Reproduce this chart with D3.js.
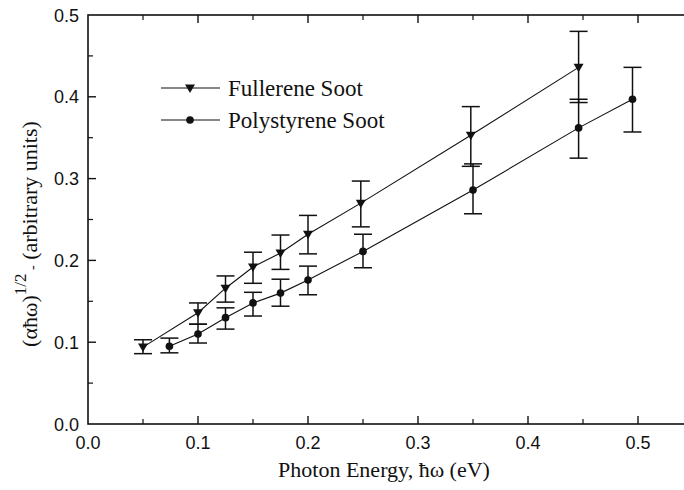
<!DOCTYPE html>
<meta charset="utf-8">
<script src="https://cdnjs.cloudflare.com/ajax/libs/d3/7.8.5/d3.min.js"></script>
<style>
  body { margin: 0; background: #fff; }
  svg { display: block; }
  .tick-label { font-family: "Liberation Sans", Arial, sans-serif; font-size: 18px; fill: #111; }
  .title { font-family: "Liberation Serif", "Times New Roman", serif; font-size: 22px; fill: #111; }
  .legend text { font-family: "Liberation Serif", "Times New Roman", serif; font-size: 23px; fill: #111; }
</style>
<body>
<script>
// values
var fullX   = [0.05, 0.10, 0.125, 0.15, 0.175, 0.20, 0.248, 0.348, 0.446];
var fullY   = [0.094, 0.136, 0.166, 0.192, 0.209, 0.232, 0.270, 0.353, 0.436];
var fullLo  = [0.086, 0.122, 0.149, 0.172, 0.189, 0.208, 0.241, 0.315, 0.393];
var fullHi  = [0.103, 0.148, 0.181, 0.210, 0.231, 0.255, 0.297, 0.388, 0.480];

var polyX   = [0.074, 0.10, 0.125, 0.15, 0.175, 0.20, 0.25, 0.35, 0.446, 0.495];
var polyY   = [0.095, 0.110, 0.130, 0.148, 0.160, 0.176, 0.211, 0.286, 0.362, 0.397];
var polyLo  = [0.087, 0.099, 0.116, 0.132, 0.144, 0.158, 0.191, 0.257, 0.325, 0.357];
var polyHi  = [0.105, 0.122, 0.142, 0.161, 0.177, 0.193, 0.232, 0.318, 0.397, 0.436];

var xTicks = [0.0, 0.1, 0.2, 0.3, 0.4, 0.5];
var yTicks = [0.0, 0.1, 0.2, 0.3, 0.4, 0.5];
var seriesNames = ["Fullerene Soot", "Polystyrene Soot"];

var width = 684, height = 490;
var margin = {top: 15, left: 88, bottom: 66};

var x = d3.scaleLinear().domain([0, 0.55]).range([margin.left, margin.left + 605]);
var y = d3.scaleLinear().domain([0, 0.5]).range([height - margin.bottom, margin.top]);

var svg = d3.select("body").append("svg")
    .attr("width", width)
    .attr("height", height);

var minorX = d3.range(0.05, 0.55, 0.1);
var minorY = d3.range(0.05, 0.5, 0.1);

function axes() {
  var g = svg.append("g").attr("stroke", "#111").attr("fill", "none");
  // frame
  g.append("rect")
      .attr("x", x(0)).attr("y", y(0.5))
      .attr("width", x(0.55) - x(0)).attr("height", y(0) - y(0.5))
      .attr("stroke-width", 1.6);

  // x ticks, bottom and top, pointing inward
  [[y(0), -1], [y(0.5), 1]].forEach(function(s) {
    g.selectAll(null).data(xTicks.slice(1)).enter().append("line")
        .attr("x1", function(d) { return x(d); }).attr("x2", function(d) { return x(d); })
        .attr("y1", s[0]).attr("y2", s[0] + s[1] * 8).attr("stroke-width", 1.4);
    g.selectAll(null).data(minorX).enter().append("line")
        .attr("x1", function(d) { return x(d); }).attr("x2", function(d) { return x(d); })
        .attr("y1", s[0]).attr("y2", s[0] + s[1] * 5).attr("stroke-width", 1.2);
  });

  // y ticks, left and right
  [[x(0), 1], [x(0.55), -1]].forEach(function(s) {
    g.selectAll(null).data(yTicks.slice(1, 5)).enter().append("line")
        .attr("y1", function(d) { return y(d); }).attr("y2", function(d) { return y(d); })
        .attr("x1", s[0]).attr("x2", s[0] + s[1] * 8).attr("stroke-width", 1.4);
    g.selectAll(null).data(minorY).enter().append("line")
        .attr("y1", function(d) { return y(d); }).attr("y2", function(d) { return y(d); })
        .attr("x1", s[0]).attr("x2", s[0] + s[1] * 5).attr("stroke-width", 1.2);
  });

  svg.selectAll(".xl").data(xTicks).enter().append("text")
      .attr("class", "tick-label")
      .attr("x", function(d) { return x(d); })
      .attr("y", y(0) + 25)
      .attr("text-anchor", "middle")
      .text(function(d) { return d.toFixed(1); });

  svg.selectAll(".yl").data(yTicks).enter().append("text")
      .attr("class", "tick-label")
      .attr("x", x(0) - 9)
      .attr("y", function(d) { return y(d) + 6.5; })
      .attr("text-anchor", "end")
      .text(function(d) { return d.toFixed(1); });

  svg.append("text")
      .attr("class", "title")
      .attr("x", 384).attr("y", 477)
      .attr("text-anchor", "middle")
      .text("Photon Energy, \u0127\u03c9 (eV)");

  var yt = svg.append("text")
      .attr("class", "title")
      .attr("font-size", 23)
      .attr("transform", "translate(37," + 234 + ") rotate(-90)")
      .attr("text-anchor", "middle");
  yt.append("tspan").text("(\u03b1\u0127\u03c9)");
  yt.append("tspan").attr("dy", -11).attr("font-size", 17).text("1/2");
  yt.append("tspan").attr("dy", 11).attr("font-size", 14).text(" -");
  yt.append("tspan").text(" (arbitrary units)");
}

function series(xs, ys, lo, hi, sym) {
  var pts = xs.map(function(d, i) { return {x: d, y: ys[i], lo: lo[i], hi: hi[i]}; });
  var g = svg.append("g");

  g.append("path")
      .datum(pts)
      .attr("fill", "none").attr("stroke", "#111").attr("stroke-width", 1.1)
      .attr("d", d3.line().x(function(d) { return x(d.x); }).y(function(d) { return y(d.y); }));

  var eb = g.selectAll(null).data(pts).enter().append("g")
      .attr("stroke", "#111").attr("stroke-width", 1.5);
  eb.append("line")
      .attr("x1", function(d) { return x(d.x); }).attr("x2", function(d) { return x(d.x); })
      .attr("y1", function(d) { return y(d.lo); }).attr("y2", function(d) { return y(d.hi); });
  ["lo", "hi"].forEach(function(k) {
    eb.append("line")
        .attr("x1", function(d) { return x(d.x) - 9; }).attr("x2", function(d) { return x(d.x) + 9; })
        .attr("y1", function(d) { return y(d[k]); }).attr("y2", function(d) { return y(d[k]); });
  });

  g.selectAll(null).data(pts).enter().append("path")
      .attr("fill", "#111")
      .attr("transform", function(d) { return "translate(" + x(d.x) + "," + y(d.y) + ")"; })
      .attr("d", sym);
}

var triDown = "M-5,-3.5L5,-3.5L0,5Z";
var dot = d3.symbol().type(d3.symbolCircle).size(46)();

axes();
series(fullX, fullY, fullLo, fullHi, triDown);
series(polyX, polyY, polyLo, polyHi, dot);

// legend
var legend = svg.append("g").attr("class", "legend");
var legSym = [triDown, dot];
seriesNames.forEach(function(name, i) {
  var ly = 88 + i * 32;
  legend.append("line")
      .attr("x1", 161).attr("x2", 220).attr("y1", ly).attr("y2", ly)
      .attr("stroke", "#111").attr("stroke-width", 1.1);
  legend.append("path")
      .attr("transform", "translate(190," + ly + ")")
      .attr("d", legSym[i]).attr("fill", "#111");
  legend.append("text")
      .attr("x", 228).attr("y", ly + 8)
      .text(name);
});
</script>
</body>
